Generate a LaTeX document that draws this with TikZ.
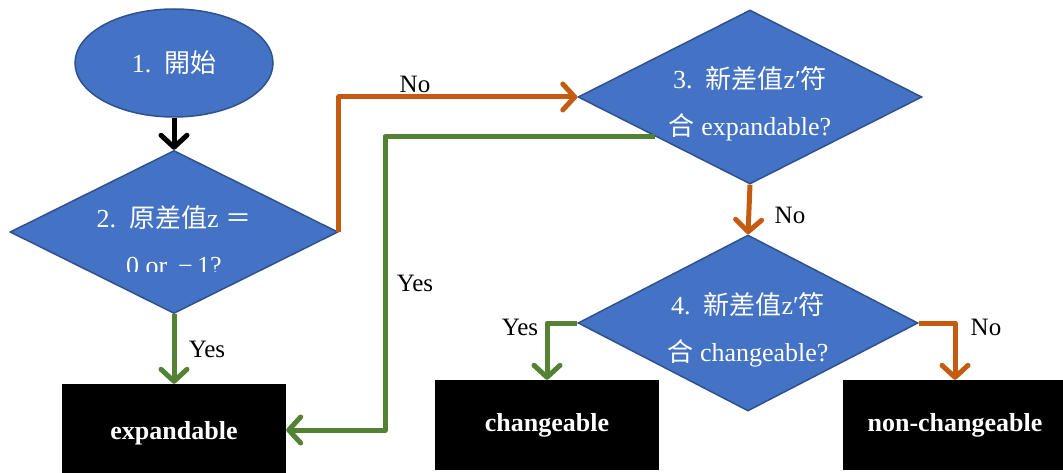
\documentclass[tikz,border=0pt]{standalone}
\usepackage{fontspec}
\setmainfont{Liberation Serif}
\newfontfamily\zh{Noto Sans CJK TC}
\usetikzlibrary{shapes.geometric,arrows.meta,calc}

\definecolor{boxblue}{HTML}{4472C4}
\definecolor{edgeblue}{HTML}{2F528F}
\definecolor{noorange}{HTML}{C55A11}
\definecolor{yesgreen}{HTML}{548235}

\begin{document}
\begin{tikzpicture}[x=1pt,y=-1pt,
  decision/.style={diamond, fill=boxblue, draw=edgeblue, line width=1.5pt, inner sep=0pt},
  startnode/.style={ellipse, fill=boxblue, draw=edgeblue, line width=1.5pt,
    minimum width=198pt, minimum height=108pt, inner sep=0pt, text=white,
    font=\fontsize{26}{30}\selectfont},
  qtext/.style={text=white, align=center, inner sep=0pt, font=\fontsize{26}{47}\selectfont},
  result/.style={fill=black, minimum width=224pt, minimum height=90pt, inner sep=0pt,
    text=white, font=\bfseries\fontsize{26}{30}\selectfont},
  flow/.style={line width=5pt, line join=round,
    -{Straight Barb[length=12pt,width=26pt,line cap=round,line join=round]}},
  yesflow/.style={flow, draw=yesgreen},
  noflow/.style={flow, draw=noorange},
  startflow/.style={flow, draw=black},
  tag/.style={inner sep=0pt, font=\fontsize{25}{30}\selectfont}
]
\useasboundingbox (0,0) rectangle (1063,473);
\clip (0,0) rectangle (1063,473);

% shapes
\node[startnode] (start) at (174,63) {1.\ \ {\zh 開始}};
\node[decision, minimum width=328pt, minimum height=163pt] (d2) at (174,232) {};
\node[decision, minimum width=344pt, minimum height=174pt] (d3) at (750,97) {};
\node[decision, minimum width=340pt, minimum height=176pt] (d4) at (748,323) {};
\node[result, minimum height=98pt] (exp) at (174,433) {expandable};
\node[result] (chg) at (547,425) {changeable};
\node[result] (nch) at (955,425) {non-changeable};

% question texts (the first one is cut off by its text frame)
\begin{scope}
  \clip (0,0) rectangle (1063,271);
  \node[qtext] (t2) at (174,240) {2.\ \ {\zh 原差值}z {\zh ＝}\\0 or \,−\,1?};
\end{scope}
\node[qtext] (t3) at (750,104) {3.\ \ {\zh 新差值}z′{\zh 符}\\{\zh 合} expandable?};
\node[qtext] (t4) at (748,330) {4.\ \ {\zh 新差值}z′{\zh 符}\\{\zh 合} changeable?};

% connectors
\coordinate (s3) at ($(d3.west)!0.45!(d3.south)$);
\coordinate (bend) at (385,430);

\draw[startflow] (start.south) -- (d2.north);
\draw[yesflow] (d2.south) -- (exp.north);
\draw[noflow] (d2.east) |- (d3.west);
\draw[yesflow] (s3) -| (bend) -- (exp.east |- bend);
\draw[noflow] (d3.south) -- (d4.north);
\draw[yesflow] (d4.west) -| (chg.north);
\draw[noflow] (d4.east) -| (nch.north);

% branch labels
\node[tag] (l1) at (207,349) {Yes};
\node[tag] (l2) at (415,84) {No};
\node[tag] (l3) at (415,283) {Yes};
\node[tag] (l4) at (790,215) {No};
\node[tag] (l5) at (520,327) {Yes};
\node[tag] (l6) at (986,327) {No};
\end{tikzpicture}
\end{document}
